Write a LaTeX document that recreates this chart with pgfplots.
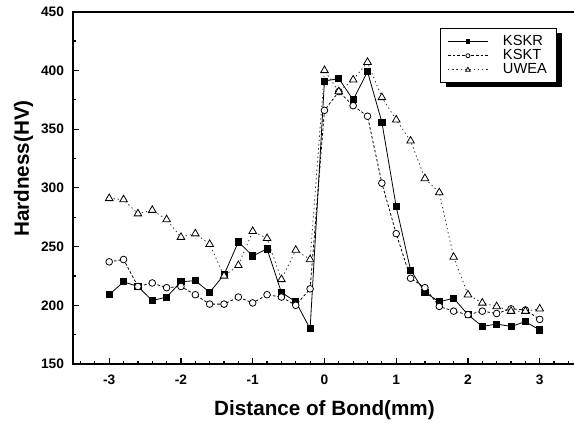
\documentclass[border=0pt]{standalone}
\usepackage{pgfplots}
\pgfplotsset{compat=1.18}
\usepackage{fontspec}
\setmainfont{Liberation Sans}

\begin{document}
\begin{tikzpicture}
\begin{axis}[
    name=ax,
    scale only axis,
    width=376.7pt, height=264.2pt,
    xmin=-3.5, xmax=3.5,
    ymin=150, ymax=450,
    xtick={-3,-2,-1,0,1,2,3},
    xticklabels={-3,-2,-1,0,1,2,3},
    minor xtick={-3.4,-3.2,-2.8,-2.6,-2.4,-2.2,-1.8,-1.6,-1.4,-1.2,-0.8,-0.6,-0.4,-0.2,0.2,0.4,0.6,0.8,1.2,1.4,1.6,1.8,2.2,2.4,2.6,2.8,3.2,3.4},
    ytick={150,200,250,300,350,400,450},
    yticklabels={150,200,250,300,350,400,450},
    minor ytick={175,225,275,325,375,425},
    xtick pos=bottom, ytick pos=left,
    tick align=inside,
    major tick length=4.5pt, minor tick length=2.2pt,
    tick style={black, line width=0.9pt},
    axis line style={line width=1.3pt},
    ticklabel style={font=\bfseries\fontsize{10.3}{11}\selectfont},
    yticklabel style={xshift=-3.5pt},
    xticklabel style={yshift=-4.5pt},
    xlabel={Distance of Bond(mm)},
    ylabel={Hardness(HV)},
    every axis x label/.style={at={(axis description cs:0.5,-0.1306)}, anchor=center,
        font=\bfseries\fontsize{15.5}{17}\selectfont},
    every axis y label/.style={at={(axis description cs:-0.099,0.555)}, rotate=90, anchor=center,
        font=\bfseries\fontsize{15.5}{17}\selectfont},
    legend cell align=left,
    legend style={name=leg, at={(0.9624,0.953)}, anchor=north east, draw=black, line width=0.6pt,
        fill=white, font=\fontsize{11}{12}\selectfont, row sep=-2.5pt, column sep=9pt,
        inner xsep=5pt, inner ysep=3pt},
    legend image code/.code={\draw[mark repeat=2,mark phase=2] plot coordinates {(0pt,0pt) (15pt,0pt) (30pt,0pt)};},
    legend image post style={every mark/.append style={scale=0.6}},
]
\addplot[black, line width=0.6pt, mark=square*, mark size=2.3pt, mark options={solid, fill=black}] coordinates {
(-3.0,209) (-2.8,220) (-2.6,216) (-2.4,204) (-2.2,207) (-2.0,220) (-1.8,221) (-1.6,211)
(-1.4,226) (-1.2,254) (-1.0,242) (-0.8,248) (-0.6,211) (-0.4,203) (-0.2,180) (0.0,391)
(0.2,393) (0.4,375) (0.6,399) (0.8,356) (1.0,284) (1.2,230) (1.4,211) (1.6,203)
(1.8,206) (2.0,192) (2.2,182) (2.4,184) (2.6,182) (2.8,186) (3.0,179)
};
\addlegendentry{KSKR}
\addplot[black, line width=0.6pt, dash pattern=on 2pt off 1.5pt, mark=*, mark size=2.5pt, mark options={solid, fill=white}] coordinates {
(-3.0,237) (-2.8,239) (-2.6,216) (-2.4,219) (-2.2,215) (-2.0,216) (-1.8,209) (-1.6,201)
(-1.4,201) (-1.2,207) (-1.0,202) (-0.8,209) (-0.6,207) (-0.4,200) (-0.2,214) (0.0,366)
(0.2,382) (0.4,370) (0.6,361) (0.8,304) (1.0,261) (1.2,223) (1.4,215) (1.6,199)
(1.8,195) (2.0,192) (2.2,195) (2.4,193) (2.6,197) (2.8,196) (3.0,188)
};
\addlegendentry{KSKT}
\addplot[black!80, line width=0.6pt, dash pattern=on 1pt off 2.2pt, mark=triangle*, mark size=3.3pt, mark options={solid, fill=white, draw=black}] coordinates {
(-3.0,291) (-2.8,290) (-2.6,278) (-2.4,281) (-2.2,273) (-2.0,258) (-1.8,261) (-1.6,252)
(-1.4,225) (-1.2,234) (-1.0,263) (-0.8,257) (-0.6,222) (-0.4,247) (-0.2,239) (0.0,400)
(0.2,382) (0.4,392) (0.6,407) (0.8,377) (1.0,358) (1.2,340) (1.4,308) (1.6,296)
(1.8,241) (2.0,209) (2.2,202) (2.4,199) (2.6,195) (2.8,195) (3.0,197)
};
\addlegendentry{UWEA}
\end{axis}
\fill[black] ([xshift=3.8pt,yshift=-3.2pt]leg.south west) rectangle ([xshift=3.8pt]leg.south east);
\fill[black] ([yshift=-3.2pt]leg.north east) rectangle ([xshift=3.8pt,yshift=-3.2pt]leg.south east);
\pgfresetboundingbox
\path[use as bounding box] ([xshift=-55pt,yshift=-44.25pt]ax.south west) rectangle ([xshift=375.5pt,yshift=8.8pt]ax.north west);
\end{tikzpicture}
\end{document}
